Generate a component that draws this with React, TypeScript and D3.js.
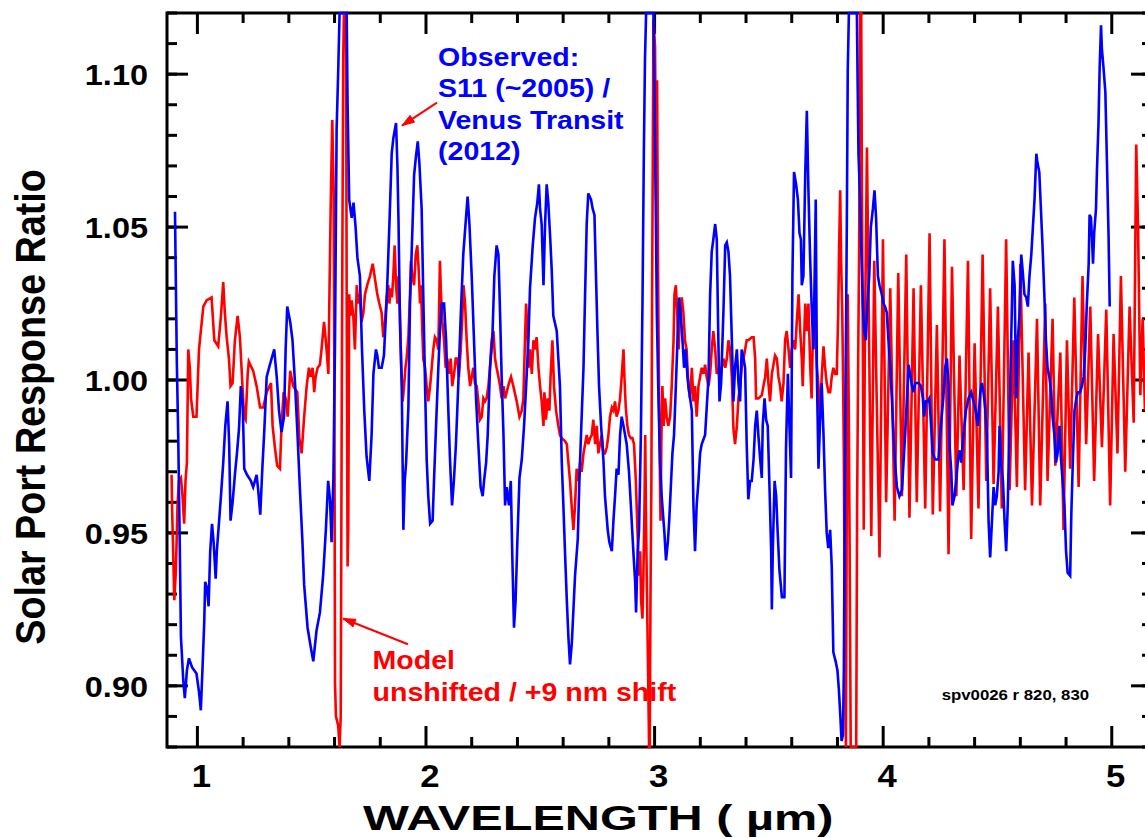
import React from 'react';
import * as d3 from 'd3';

type Pt = [number, number];

// ---------- data (wavelength µm, ratio) ----------
const observed: Pt[] = [
[0.902,1.055],[0.906,1.030],[0.910,1.006],[0.916,0.982],[0.922,0.951],[0.928,0.916],[0.938,0.902],[0.945,0.896],[0.954,0.905],[0.963,0.909],[0.977,0.906],[0.996,0.904],[1.007,0.898],[1.015,0.892],[1.023,0.907],[1.030,0.921],[1.034,0.934],[1.042,0.932],[1.049,0.926],[1.056,0.944],[1.064,0.953],[1.071,0.947],[1.080,0.935],[1.085,0.944],[1.094,0.953],[1.103,0.962],[1.113,0.973],[1.122,0.985],[1.132,0.993],[1.139,0.979],[1.145,0.954],[1.154,0.960],[1.164,0.969],[1.173,0.976],[1.182,0.984],[1.190,0.998],[1.198,0.993],[1.205,0.971],[1.217,0.969],[1.234,0.967],[1.244,0.965],[1.259,0.969],[1.266,0.964],[1.275,0.956],[1.284,0.971],[1.293,0.984],[1.303,1.001],[1.317,1.005],[1.336,1.010],[1.347,1.001],[1.357,0.990],[1.368,0.983],[1.379,0.988],[1.386,1.010],[1.393,1.024],[1.406,1.019],[1.416,1.013],[1.427,0.999],[1.438,0.982],[1.448,0.965],[1.459,0.948],[1.467,0.933],[1.482,0.919],[1.495,0.913],[1.507,0.908],[1.521,0.918],[1.536,0.924],[1.550,0.936],[1.562,0.951],[1.572,0.967],[1.580,0.961],[1.587,0.947],[1.595,0.968],[1.602,1.013],[1.609,1.082],[1.616,1.101],[1.622,1.120],[1.653,1.120],[1.657,1.090],[1.664,1.059],[1.675,1.053],[1.683,1.058],[1.692,1.050],[1.700,1.040],[1.711,1.034],[1.720,1.010],[1.730,0.990],[1.740,0.975],[1.752,0.967],[1.762,0.982],[1.770,1.002],[1.781,1.010],[1.787,1.008],[1.794,1.004],[1.806,1.004],[1.816,1.008],[1.829,1.028],[1.840,1.051],[1.850,1.074],[1.857,1.079],[1.869,1.084],[1.875,1.070],[1.880,1.051],[1.886,1.019],[1.894,0.998],[1.901,0.951],[1.907,0.967],[1.913,0.973],[1.923,0.991],[1.930,1.025],[1.937,1.041],[1.948,1.067],[1.956,1.073],[1.964,1.078],[1.971,1.071],[1.981,1.056],[1.988,1.028],[1.996,0.998],[2.003,0.974],[2.010,0.962],[2.018,0.953],[2.029,0.954],[2.035,0.967],[2.044,0.985],[2.054,1.004],[2.061,1.016],[2.069,1.025],[2.079,1.025],[2.088,1.013],[2.096,0.994],[2.105,0.974],[2.114,0.959],[2.122,0.967],[2.131,0.979],[2.141,0.998],[2.152,1.021],[2.163,1.041],[2.175,1.053],[2.182,1.060],[2.190,1.051],[2.200,1.034],[2.210,1.013],[2.219,0.994],[2.229,0.979],[2.239,0.965],[2.248,0.962],[2.254,0.967],[2.263,0.973],[2.270,0.982],[2.280,1.004],[2.290,1.013],[2.299,1.034],[2.309,1.044],[2.317,1.041],[2.324,1.022],[2.331,1.001],[2.339,0.982],[2.346,0.959],[2.353,0.965],[2.363,0.959],[2.371,0.967],[2.378,0.941],[2.385,0.919],[2.392,0.928],[2.400,0.948],[2.409,0.968],[2.419,0.974],[2.429,0.985],[2.438,0.998],[2.448,1.013],[2.455,1.030],[2.467,1.044],[2.477,1.053],[2.487,1.058],[2.494,1.064],[2.499,1.056],[2.506,1.051],[2.514,1.031],[2.521,1.051],[2.528,1.064],[2.535,1.058],[2.543,1.047],[2.550,1.036],[2.557,1.021],[2.572,1.016],[2.586,0.998],[2.594,0.973],[2.601,0.959],[2.608,0.944],[2.616,0.928],[2.623,0.916],[2.630,0.907],[2.638,0.914],[2.645,0.925],[2.652,0.936],[2.664,0.948],[2.671,0.967],[2.678,0.982],[2.689,1.004],[2.696,1.028],[2.703,1.051],[2.710,1.061],[2.722,1.059],[2.729,1.056],[2.737,1.054],[2.743,1.036],[2.750,1.016],[2.757,0.998],[2.766,0.985],[2.776,0.974],[2.783,0.962],[2.795,0.951],[2.802,0.947],[2.813,0.944],[2.820,0.954],[2.827,0.962],[2.834,0.971],[2.842,0.969],[2.849,0.982],[2.856,0.988],[2.864,0.985],[2.871,0.982],[2.878,0.979],[2.888,0.970],[2.897,0.958],[2.907,0.944],[2.915,0.934],[2.919,0.924],[2.926,0.944],[2.932,0.951],[2.940,0.982],[2.947,1.025],[2.953,1.074],[2.958,1.105],[2.963,1.120],[2.995,1.120],[3.002,1.078],[3.010,1.021],[3.017,0.994],[3.024,0.973],[3.031,0.962],[3.043,0.950],[3.050,0.941],[3.058,0.947],[3.064,0.954],[3.071,0.965],[3.078,0.976],[3.085,0.982],[3.093,0.998],[3.100,1.013],[3.107,1.027],[3.115,1.021],[3.122,1.013],[3.129,1.004],[3.136,1.010],[3.144,1.001],[3.148,0.998],[3.163,0.990],[3.170,0.959],[3.177,0.944],[3.184,0.959],[3.192,0.967],[3.199,0.976],[3.206,0.979],[3.221,0.982],[3.236,1.001],[3.243,1.028],[3.250,1.042],[3.257,1.046],[3.265,1.051],[3.272,1.046],[3.279,1.013],[3.284,0.993],[3.291,0.999],[3.301,1.022],[3.309,1.044],[3.316,1.045],[3.323,1.042],[3.330,1.034],[3.338,1.013],[3.345,0.993],[3.352,1.004],[3.360,1.010],[3.367,0.999],[3.374,0.993],[3.381,1.010],[3.389,1.007],[3.396,1.004],[3.403,0.979],[3.410,0.961],[3.418,0.967],[3.425,0.967],[3.433,0.974],[3.440,0.985],[3.447,0.990],[3.454,0.982],[3.462,0.974],[3.469,0.968],[3.473,0.985],[3.481,0.994],[3.488,0.987],[3.495,0.985],[3.503,0.964],[3.510,0.944],[3.513,0.925],[3.517,0.944],[3.525,0.967],[3.532,0.962],[3.538,0.951],[3.546,0.938],[3.557,0.929],[3.568,0.929],[3.575,0.978],[3.583,1.002],[3.590,0.985],[3.597,0.968],[3.603,1.034],[3.610,1.068],[3.619,1.064],[3.627,1.059],[3.634,1.048],[3.640,1.046],[3.644,1.031],[3.651,1.034],[3.659,1.067],[3.666,1.088],[3.673,1.062],[3.680,1.041],[3.688,1.022],[3.695,1.010],[3.699,1.028],[3.705,1.059],[3.710,1.002],[3.717,0.971],[3.724,0.987],[3.731,0.999],[3.739,0.982],[3.746,0.964],[3.753,0.950],[3.760,0.945],[3.768,0.951],[3.775,0.939],[3.782,0.911],[3.792,0.908],[3.800,0.905],[3.806,0.899],[3.812,0.891],[3.818,0.882],[3.824,0.884],[3.828,0.905],[3.834,0.985],[3.841,1.051],[3.845,1.101],[3.850,1.120],[3.885,1.120],[3.888,1.099],[3.892,1.074],[3.899,1.059],[3.905,1.041],[3.911,1.025],[3.917,1.016],[3.924,1.013],[3.931,1.025],[3.939,1.034],[3.946,1.050],[3.955,1.056],[3.962,1.062],[3.969,1.053],[3.977,1.034],[3.984,1.031],[3.994,1.028],[4.001,1.025],[4.008,1.024],[4.016,1.022],[4.023,1.013],[4.031,1.004],[4.038,0.994],[4.045,0.982],[4.052,0.973],[4.060,0.965],[4.071,0.962],[4.082,0.964],[4.089,0.973],[4.096,0.982],[4.104,0.994],[4.111,1.005],[4.118,1.002],[4.126,0.998],[4.133,0.996],[4.140,0.999],[4.155,0.999],[4.165,0.998],[4.174,0.994],[4.179,0.988],[4.187,0.993],[4.195,0.993],[4.202,0.994],[4.208,0.987],[4.217,0.976],[4.227,0.974],[4.242,0.974],[4.249,0.982],[4.256,0.988],[4.263,0.994],[4.271,1.004],[4.279,1.007],[4.286,0.998],[4.290,0.979],[4.298,0.970],[4.303,0.959],[4.312,0.962],[4.319,0.967],[4.327,0.974],[4.334,0.977],[4.341,0.973],[4.351,0.982],[4.362,0.990],[4.373,0.994],[4.385,0.996],[4.395,0.993],[4.405,0.990],[4.414,0.985],[4.425,0.996],[4.432,0.999],[4.439,0.996],[4.446,0.991],[4.454,0.982],[4.461,0.954],[4.468,0.942],[4.476,0.954],[4.483,0.965],[4.490,0.959],[4.497,0.962],[4.505,0.970],[4.509,0.985],[4.516,0.973],[4.524,0.967],[4.531,0.954],[4.538,0.944],[4.545,0.959],[4.553,0.987],[4.560,1.013],[4.567,1.039],[4.575,1.031],[4.582,0.994],[4.589,1.013],[4.597,1.022],[4.604,1.041],[4.611,1.035],[4.618,1.028],[4.626,1.027],[4.633,1.024],[4.640,1.034],[4.648,1.041],[4.655,1.050],[4.662,1.059],[4.670,1.074],[4.675,1.071],[4.683,1.068],[4.690,1.056],[4.697,1.044],[4.705,1.028],[4.712,1.013],[4.719,1.004],[4.727,1.001],[4.735,0.996],[4.741,0.988],[4.749,0.982],[4.756,0.973],[4.763,0.976],[4.771,0.985],[4.778,0.974],[4.785,0.967],[4.793,0.959],[4.800,0.944],[4.807,0.937],[4.818,0.936],[4.823,0.956],[4.830,0.974],[4.837,0.990],[4.845,0.994],[4.852,0.996],[4.862,0.996],[4.869,0.998],[4.877,1.001],[4.884,1.010],[4.891,1.025],[4.899,1.038],[4.903,1.054],[4.909,1.053],[4.913,1.047],[4.918,1.038],[4.923,1.048],[4.931,1.056],[4.935,1.068],[4.942,1.084],[4.947,1.102],[4.953,1.116],[4.957,1.108],[4.964,1.102],[4.972,1.094],[4.979,1.071],[4.986,1.047],[4.991,1.024]
];

const model: Pt[] = [
[0.887,0.969],[0.890,0.956],[0.899,0.928],[0.906,0.938],[0.913,0.959],[0.919,0.967],[0.928,0.968],[0.935,0.962],[0.942,0.953],[0.948,0.967],[0.954,0.973],[0.957,0.991],[0.960,1.010],[0.967,1.004],[0.972,0.994],[0.982,0.988],[0.996,0.988],[1.001,0.998],[1.007,1.010],[1.015,1.016],[1.026,1.024],[1.040,1.026],[1.062,1.027],[1.074,1.013],[1.091,1.011],[1.103,1.021],[1.113,1.032],[1.120,1.022],[1.128,1.014],[1.138,1.007],[1.145,0.998],[1.154,0.999],[1.164,1.013],[1.176,1.021],[1.186,1.014],[1.193,1.004],[1.204,0.988],[1.211,0.987],[1.220,1.002],[1.225,1.006],[1.244,1.003],[1.259,0.998],[1.274,0.991],[1.288,0.991],[1.303,0.996],[1.322,0.999],[1.329,0.985],[1.339,0.978],[1.349,0.972],[1.361,0.971],[1.368,0.985],[1.377,0.996],[1.386,0.994],[1.395,0.988],[1.406,1.003],[1.419,0.998],[1.437,0.996],[1.446,0.981],[1.456,0.976],[1.466,0.987],[1.478,0.998],[1.488,1.004],[1.495,1.001],[1.504,1.004],[1.511,0.996],[1.517,1.001],[1.526,1.004],[1.536,1.005],[1.543,1.010],[1.554,1.019],[1.565,1.010],[1.573,1.002],[1.578,1.030],[1.583,1.056],[1.590,1.085],[1.596,1.062],[1.599,1.001],[1.602,0.901],[1.606,0.890],[1.616,0.887],[1.622,0.880],[1.627,0.890],[1.631,0.982],[1.634,1.039],[1.638,1.105],[1.641,1.120],[1.650,1.120],[1.653,1.028],[1.657,0.939],[1.660,0.951],[1.664,1.028],[1.669,1.021],[1.675,1.026],[1.682,1.021],[1.689,1.010],[1.697,1.031],[1.704,1.025],[1.711,1.028],[1.718,1.019],[1.726,1.022],[1.733,1.028],[1.743,1.031],[1.755,1.034],[1.767,1.038],[1.777,1.033],[1.787,1.028],[1.796,1.025],[1.806,1.022],[1.813,1.014],[1.821,1.019],[1.828,1.027],[1.835,1.031],[1.840,1.025],[1.845,1.030],[1.851,1.027],[1.857,1.034],[1.863,1.044],[1.869,1.031],[1.875,1.025],[1.880,1.034],[1.886,1.022],[1.892,1.004],[1.898,0.993],[1.904,0.998],[1.910,1.004],[1.915,1.007],[1.923,1.014],[1.930,1.028],[1.934,1.039],[1.940,1.034],[1.948,1.031],[1.955,1.041],[1.962,1.044],[1.968,1.036],[1.974,1.025],[1.978,1.031],[1.984,1.016],[1.988,1.007],[1.996,1.004],[2.003,0.998],[2.010,0.993],[2.018,0.998],[2.025,1.004],[2.032,1.010],[2.039,1.014],[2.047,1.013],[2.054,1.010],[2.061,1.039],[2.066,1.027],[2.072,1.019],[2.079,1.013],[2.086,1.004],[2.093,1.007],[2.101,1.002],[2.108,1.007],[2.115,0.998],[2.123,1.002],[2.130,1.007],[2.137,1.007],[2.144,1.001],[2.152,1.010],[2.159,1.021],[2.164,1.031],[2.171,1.025],[2.178,1.013],[2.185,1.004],[2.193,0.998],[2.200,1.001],[2.207,1.004],[2.214,0.999],[2.222,0.998],[2.229,0.993],[2.236,0.987],[2.244,0.988],[2.251,0.994],[2.258,0.993],[2.265,0.994],[2.273,0.998],[2.280,1.004],[2.287,1.013],[2.295,1.016],[2.302,1.007],[2.309,1.004],[2.317,1.001],[2.324,0.998],[2.331,0.994],[2.339,0.998],[2.346,0.994],[2.353,0.996],[2.363,0.999],[2.372,1.001],[2.382,0.998],[2.397,0.993],[2.409,0.988],[2.419,0.990],[2.426,0.994],[2.433,1.013],[2.438,1.025],[2.444,1.016],[2.448,1.004],[2.455,1.010],[2.463,1.002],[2.470,1.013],[2.477,1.010],[2.484,1.014],[2.492,1.004],[2.499,0.998],[2.506,0.993],[2.514,0.985],[2.518,0.996],[2.525,0.987],[2.532,0.994],[2.540,0.990],[2.545,1.001],[2.553,1.013],[2.560,0.998],[2.569,0.990],[2.579,0.985],[2.586,0.982],[2.594,0.981],[2.608,0.980],[2.616,0.979],[2.623,0.973],[2.630,0.967],[2.638,0.958],[2.645,0.951],[2.652,0.959],[2.659,0.971],[2.667,0.967],[2.674,0.973],[2.681,0.970],[2.689,0.976],[2.696,0.979],[2.703,0.982],[2.710,0.979],[2.718,0.981],[2.725,0.982],[2.732,0.987],[2.740,0.979],[2.747,0.985],[2.754,0.976],[2.761,0.979],[2.769,0.982],[2.776,0.976],[2.783,0.976],[2.791,0.978],[2.798,0.982],[2.805,0.988],[2.813,0.991],[2.820,0.990],[2.827,0.993],[2.834,0.988],[2.842,0.990],[2.849,0.994],[2.856,1.001],[2.864,1.010],[2.868,1.001],[2.874,0.991],[2.881,0.985],[2.888,0.982],[2.896,0.981],[2.903,0.981],[2.910,0.979],[2.918,0.967],[2.925,0.951],[2.932,0.936],[2.937,0.944],[2.941,0.928],[2.947,0.922],[2.951,0.936],[2.956,0.959],[2.959,0.982],[2.963,0.951],[2.967,0.928],[2.971,0.908],[2.976,0.880],[2.979,0.880],[2.982,0.928],[2.986,0.967],[2.989,1.024],[2.992,1.071],[2.995,1.118],[3.002,1.109],[3.007,1.059],[3.011,1.098],[3.015,1.036],[3.021,0.982],[3.026,0.954],[3.030,0.982],[3.034,0.998],[3.040,0.985],[3.046,0.994],[3.053,0.988],[3.060,0.985],[3.068,0.988],[3.075,0.998],[3.083,1.013],[3.087,1.028],[3.093,1.031],[3.099,1.022],[3.105,1.010],[3.111,1.021],[3.119,1.027],[3.126,1.022],[3.133,1.013],[3.140,1.010],[3.148,0.998],[3.155,0.994],[3.163,1.004],[3.170,0.993],[3.177,0.998],[3.184,0.988],[3.192,0.998],[3.199,1.001],[3.206,1.004],[3.214,1.002],[3.221,1.005],[3.228,1.001],[3.236,0.998],[3.243,1.002],[3.250,1.010],[3.257,1.016],[3.265,1.010],[3.272,1.002],[3.279,1.004],[3.287,0.998],[3.294,1.004],[3.301,1.007],[3.309,1.004],[3.316,1.007],[3.323,1.013],[3.330,1.010],[3.338,1.001],[3.345,0.984],[3.352,0.979],[3.360,0.985],[3.367,0.994],[3.374,0.998],[3.381,1.004],[3.389,1.007],[3.396,1.010],[3.403,1.013],[3.410,1.013],[3.425,1.014],[3.433,1.014],[3.440,1.007],[3.444,0.994],[3.454,0.994],[3.469,0.995],[3.476,0.998],[3.484,1.001],[3.491,1.007],[3.498,0.999],[3.505,0.993],[3.513,1.002],[3.520,1.005],[3.527,1.008],[3.535,1.007],[3.542,1.001],[3.549,0.998],[3.556,0.993],[3.564,0.999],[3.571,1.013],[3.578,1.016],[3.586,1.010],[3.593,1.004],[3.600,1.010],[3.608,1.013],[3.615,1.010],[3.622,1.019],[3.630,1.028],[3.637,1.016],[3.644,1.007],[3.648,0.998],[3.654,1.013],[3.659,1.025],[3.666,1.016],[3.673,1.025],[3.681,1.004],[3.687,0.994],[3.692,1.013],[3.699,1.025],[3.705,1.013],[3.710,1.004],[3.717,0.998],[3.724,0.987],[3.731,1.001],[3.739,1.011],[3.746,1.004],[3.753,0.999],[3.761,0.996],[3.768,0.996],[3.775,1.001],[3.782,1.004],[3.790,1.002],[3.797,1.002],[3.803,1.021],[3.807,1.042],[3.812,1.062],[3.816,1.039],[3.821,1.022],[3.825,0.998],[3.828,0.974],[3.832,0.921],[3.837,0.880],[3.841,0.967],[3.845,1.028],[3.850,0.985],[3.854,0.936],[3.858,0.880],[3.882,0.880],[3.886,0.959],[3.891,1.010],[3.895,1.044],[3.899,1.120],[3.904,1.120],[3.907,1.062],[3.911,1.013],[3.915,0.951],[3.920,1.013],[3.929,1.076],
[3.948,0.949],[3.961,1.039],[3.984,0.942],[3.999,1.046],[4.013,0.960],[4.031,1.030],[4.050,0.954],[4.066,1.035],[4.082,0.962],[4.101,1.041],[4.115,0.955],[4.133,1.030],[4.147,0.960],[4.165,1.031],[4.184,0.958],[4.203,1.048],[4.217,0.956],[4.235,1.018],[4.249,0.957],[4.268,1.046],[4.286,0.943],[4.301,1.037],[4.320,0.962],[4.334,1.008],[4.352,0.964],[4.371,1.039],[4.385,0.948],[4.400,1.012],[4.417,0.958],[4.435,1.041],[4.451,0.967],[4.468,1.030],[4.483,0.966],[4.502,1.024],[4.519,0.958],[4.538,1.046],[4.553,0.964],[4.570,1.013],[4.585,0.965],[4.600,1.038],[4.621,0.964],[4.636,1.009],[4.651,0.959],[4.673,1.020],[4.687,0.959],[4.709,1.025],[4.719,0.967],[4.741,1.020],[4.753,0.972],[4.775,1.009],[4.789,0.951],[4.804,1.013],[4.818,0.971],[4.836,1.027],[4.855,0.965],[4.872,1.034],[4.888,0.979],[4.906,1.024],[4.923,0.967],[4.940,1.015],[4.957,0.978],[4.976,1.023],[4.993,0.959],[5.008,1.015],[5.025,0.976],[5.040,1.034],[5.059,0.970],[5.078,1.024],[5.096,0.986],[5.107,1.077],[5.115,1.050],[5.125,0.995],[5.135,1.020],[5.145,0.990]
];

const xMajorTicks = [1, 2, 3, 4, 5];
const xTickLabels = ['1', '2', '3', '4', '5'];
const yMajorTicks = [0.90, 0.95, 1.00, 1.05, 1.10];
const yTickLabels = ['0.90', '0.95', '1.00', '1.05', '1.10'];

const observedLabel = ['Observed:', 'S11 (~2005) /', 'Venus Transit', '(2012)'];
const modelLabel = ['Model', 'unshifted / +9 nm shift'];
const runLabel = 'spv0026 r 820, 830';
const xTitle = 'WAVELENGTH ( µm)';
const yTitle = 'Solar Port Response Ratio';

// annotation anchors in data coordinates
const observedLabelPos: Pt = [2.0525, 1.1027];
const modelLabelPos: Pt = [1.766, 0.9054];
const runLabelPos: Pt = [4.256, 0.8953];
const observedArrow: [Pt, Pt] = [[2.048, 1.0907], [1.895, 1.0832]];
const modelArrow: [Pt, Pt] = [[1.921, 0.9136], [1.637, 0.922]];

// ---------- layout ----------
const W = 1145, H = 838;
const L = 167, R = 1152, T = 13, B = 747;
const SX = 1.12; // horizontal stretch of the text
const FONT = '"Liberation Sans", Arial, Helvetica, sans-serif';
const BLUE = '#0000ff';
const RED = '#ff0000';

const xs = d3.scaleLinear().domain([0.867, 5.176]).range([L, R]);
const ys = d3.scaleLinear().domain([0.88, 1.12]).range([B, T]).clamp(true);

const line = d3.line<Pt>().x(d => xs(d[0])).y(d => ys(d[1]));

function Arrow({ seg }: { seg: [Pt, Pt] }) {
  const [a, b] = seg;
  const x1 = xs(a[0]), y1 = ys(a[1]), x2 = xs(b[0]), y2 = ys(b[1]);
  const ang = Math.atan2(y2 - y1, x2 - x1);
  const len = 13, spread = 0.32;
  const p1 = [x2 - len * Math.cos(ang - spread), y2 - len * Math.sin(ang - spread)];
  const p2 = [x2 - len * Math.cos(ang + spread), y2 - len * Math.sin(ang + spread)];
  return (
    <g>
      <line x1={x1} y1={y1} x2={x2} y2={y2} stroke={RED} strokeWidth={2} />
      <path d={`M${x2},${y2}L${p1[0]},${p1[1]}L${p2[0]},${p2[1]}Z`} fill={RED} stroke={RED} strokeWidth={1} />
    </g>
  );
}

export default function App() {
  const xMinor = d3.range(1, 5.001, 0.2).filter(v => Math.abs(v - Math.round(v)) > 1e-6);
  const yMinor = d3.range(0.88, 1.1201, 0.01);
  const tickW = 3;
  const majLen = 21, minLen = 10;

  return (
    <svg width={W} height={H} style={{ position: 'absolute', left: 0, top: 0, background: '#fff' }}
      fontFamily={FONT}>
      <rect x={0} y={0} width={W} height={H} fill="#fff" />

      {/* frame */}
      <g stroke="#000" strokeWidth={3} fill="none">
        <line x1={L} y1={T} x2={R} y2={T} />
        <line x1={L} y1={B} x2={R} y2={B} />
        <line x1={L} y1={T - 1.5} x2={L} y2={B + 1.5} />
        <line x1={R} y1={T} x2={R} y2={B} />
      </g>

      {/* ticks */}
      <g stroke="#000" strokeWidth={tickW}>
        {xMajorTicks.map(v => (
          <g key={'xM' + v}>
            <line x1={xs(v)} x2={xs(v)} y1={B} y2={B - majLen} />
            <line x1={xs(v)} x2={xs(v)} y1={T} y2={T + majLen} />
          </g>
        ))}
        {xMinor.map(v => (
          <g key={'xm' + v}>
            <line x1={xs(v)} x2={xs(v)} y1={B} y2={B - minLen} />
            <line x1={xs(v)} x2={xs(v)} y1={T} y2={T + minLen} />
          </g>
        ))}
        {yMajorTicks.map(v => (
          <g key={'yM' + v}>
            <line x1={L} x2={L + majLen} y1={ys(v)} y2={ys(v)} />
            <line x1={R} x2={R - majLen} y1={ys(v)} y2={ys(v)} />
          </g>
        ))}
        {yMinor.map(v => (
          <g key={'ym' + v}>
            <line x1={L} x2={L + minLen} y1={ys(v)} y2={ys(v)} />
            <line x1={R} x2={R - minLen} y1={ys(v)} y2={ys(v)} />
          </g>
        ))}
      </g>

      {/* tick labels */}
      <g fontWeight="bold" fill="#000">
        {xMajorTicks.map((v, i) => (
          <text key={'xl' + v} fontSize={31} transform={`translate(${xs(v) + 4},787) scale(${SX},1)`} textAnchor="middle">
            {xTickLabels[i]}
          </text>
        ))}
        {yMajorTicks.map((v, i) => (
          <text key={'yl' + v} fontSize={29} transform={`translate(148,${ys(v) + 11}) scale(${SX},1)`} textAnchor="end">
            {yTickLabels[i]}
          </text>
        ))}
      </g>

      {/* axis titles */}
      <text transform={`translate(363,830) scale(${SX},1)`} fontWeight="bold" fontSize={35}
        textLength={420} lengthAdjust="spacingAndGlyphs" fill="#000">
        {xTitle}
      </text>
      <text transform={`translate(45,407) scale(${SX},1) rotate(-90)`} fontWeight="bold" fontSize={37.7}
        textAnchor="middle" fill="#000">
        {yTitle}
      </text>

      {/* data */}
      <path d={line(model) || ''} fill="none" stroke={RED} strokeWidth={2.6} strokeLinejoin="miter" />
      <path d={line(observed) || ''} fill="none" stroke={BLUE} strokeWidth={2.6} strokeLinejoin="miter" />

      {/* annotations */}
      <g fontWeight="bold" fontSize={25.5} fill={BLUE}>
        {observedLabel.map((s, i) => (
          <text key={s} transform={`translate(${xs(observedLabelPos[0])},${ys(observedLabelPos[1]) + i * 31.5}) scale(${SX},1)`}>
            {s}
          </text>
        ))}
      </g>
      <g fontWeight="bold" fontSize={25.5} fill={RED}>
        {modelLabel.map((s, i) => (
          <text key={s} transform={`translate(${xs(modelLabelPos[0])},${ys(modelLabelPos[1]) + i * 32}) scale(${SX},1)`}>
            {s}
          </text>
        ))}
      </g>
      <Arrow seg={observedArrow} />
      <Arrow seg={modelArrow} />
      <text transform={`translate(${xs(runLabelPos[0])},${ys(runLabelPos[1])}) scale(${SX},1)`}
        fontSize={15} fontWeight="bold" fill="#000">
        {runLabel}
      </text>
    </svg>
  );
}
